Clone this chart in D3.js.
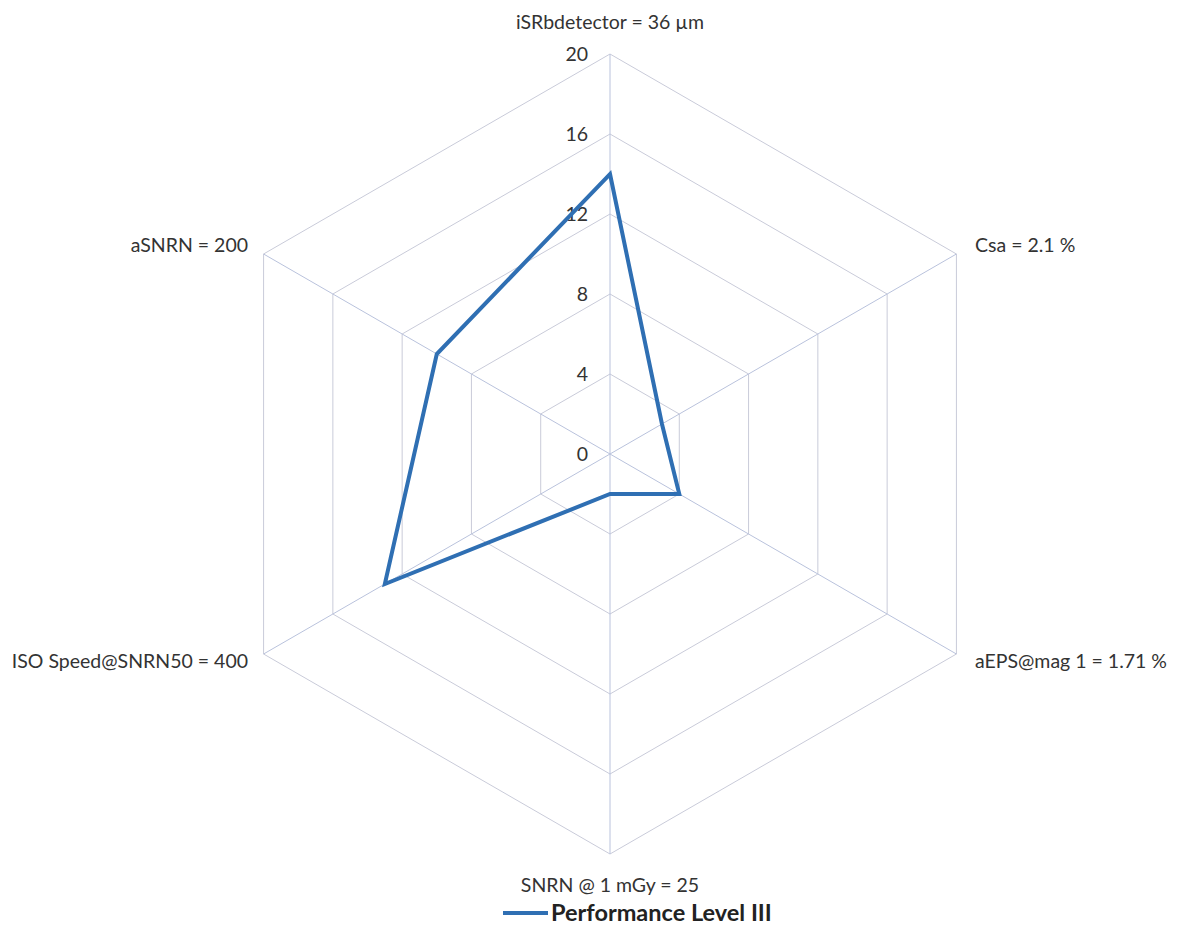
<!DOCTYPE html>
<html><head><meta charset="utf-8">
<script src="https://cdn.jsdelivr.net/npm/d3@7"></script>
<style>body{margin:0;background:#fff}svg{display:block}text{font-family:Lato,"Open Sans",sans-serif;fill:#333}</style>
</head><body><svg id="c" width="1178" height="928"></svg>
<script>
const axesLabels = ["iSRbdetector = 36 µm","Csa = 2.1 %","aEPS@mag 1 = 1.71 %","SNRN @ 1 mGy = 25","ISO Speed@SNRN50 = 400","aSNRN = 200"];
const seriesName = "Performance Level III";
const values = [14, 3, 4, 2, 13, 10];
const ticks = [0, 4, 8, 12, 16, 20];

const svg = d3.select("#c");
const cx = 610, cy = 454, R = 400;
const r = d3.scaleLinear().domain([0, 20]).range([0, R]);
const n = axesLabels.length;
const ang = i => -Math.PI/2 + i * 2*Math.PI/n;
const pt = (i, v) => [cx + r(v)*Math.cos(ang(i)), cy + r(v)*Math.sin(ang(i))];

const g = svg.append("g");
// rings
ticks.filter(t => t > 0).forEach(t => {
  g.append("polygon")
    .attr("points", d3.range(n).map(i => pt(i, t).join(",")).join(" "))
    .attr("fill", "none").attr("stroke", "#c9cbd9").attr("stroke-width", 1);
});
// spokes
d3.range(n).forEach(i => {
  const p = pt(i, 20);
  g.append("line").attr("x1", cx).attr("y1", cy).attr("x2", p[0]).attr("y2", p[1])
    .attr("stroke", "#b9c2dc").attr("stroke-width", 1);
});
// tick labels
g.selectAll("text.tick").data(ticks).join("text").attr("class","tick")
  .attr("x", cx - 22).attr("y", d => cy - r(d)).attr("dy", "0.36em")
  .attr("text-anchor", "end").style("font-size", "19.5px").text(d => d);

// series
const line = d3.line().curve(d3.curveLinearClosed);
g.append("path").attr("d", line(values.map((v, i) => pt(i, v))))
  .attr("fill", "none").attr("stroke", "#2f6fb3").attr("stroke-width", 4).attr("stroke-linejoin", "miter");

// axis labels
const labelPos = [
  {x: cx, y: 22, a: "middle"},
  {x: 975, y: 245, a: "start"},
  {x: 975, y: 661, a: "start"},
  {x: cx, y: 885, a: "middle"},
  {x: 248, y: 661, a: "end"},
  {x: 248, y: 245, a: "end"}
];
axesLabels.forEach((t, i) => {
  g.append("text").attr("x", labelPos[i].x).attr("y", labelPos[i].y).attr("dy", "0.36em")
    .attr("text-anchor", labelPos[i].a).style("font-size", "19.5px").text(t);
});

// legend
svg.append("line").attr("x1", 503).attr("x2", 548).attr("y1", 913).attr("y2", 913)
  .attr("stroke", "#2f6fb3").attr("stroke-width", 4);
svg.append("text").attr("x", 551).attr("y", 913).attr("dy", "0.36em")
  .style("font-size", "23.5px").style("font-weight", "bold").style("fill", "#222").text(seriesName);
</script></body></html>
